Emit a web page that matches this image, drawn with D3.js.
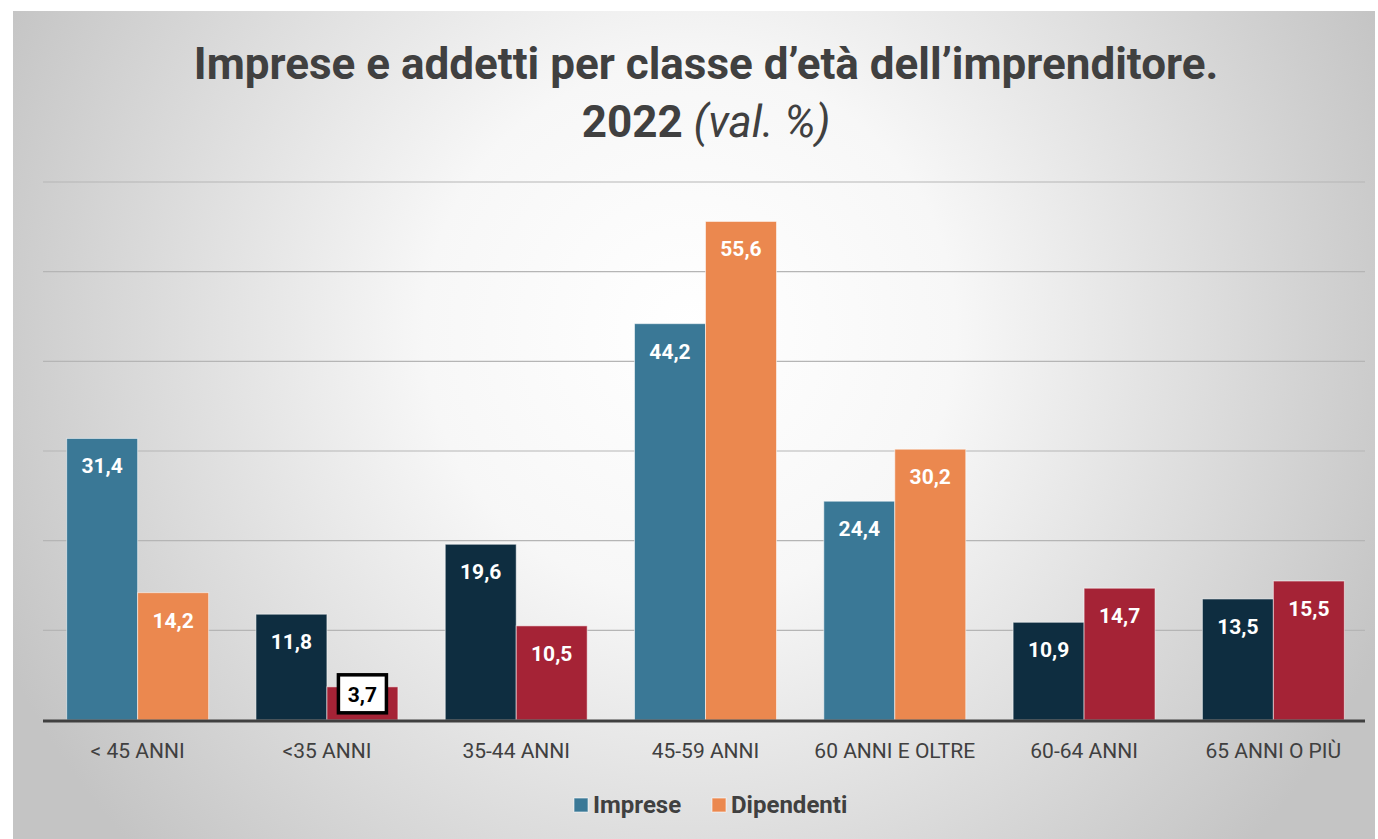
<!DOCTYPE html>
<html>
<head>
<meta charset="utf-8">
<script src="https://cdn.jsdelivr.net/npm/d3@7"></script>
<style>
  html, body { margin: 0; padding: 0; background: #fff; }
  svg { display: block; }
  text { font-family: "Roboto", "Liberation Sans", sans-serif; }
</style>
</head>
<body>
<svg id="chart" width="1378" height="839"></svg>
<script>
// ---- dati ----
const categorie = ["< 45 ANNI", "<35 ANNI", "35-44 ANNI", "45-59 ANNI", "60 ANNI E OLTRE", "60-64 ANNI", "65 ANNI O PIÙ"];
const imprese = [31.4, 11.8, 19.6, 44.2, 24.4, 10.9, 13.5];
const dipendenti = [14.2, 3.7, 10.5, 55.6, 30.2, 14.7, 15.5];
// sottoclassi (colori scuri)
const sottoclasse = [false, true, true, false, false, true, true];
const serieNomi = ["Imprese", "Dipendenti"];
const yTicks = [0, 10, 20, 30, 40, 50, 60];

// ---- colori ----
const COLORI = {
  imprese: "#3a7896",
  impreseScuro: "#0e2d40",
  dipendenti: "#eb884f",
  dipendentiScuro: "#a52336",
};

const W = 1378, H = 839;
const svg = d3.select("#chart");

// sfondo con gradiente radiale
const defs = svg.append("defs");
const grad = defs.append("radialGradient")
  .attr("id", "sfondo")
  .attr("gradientUnits", "userSpaceOnUse")
  .attr("cx", 690).attr("cy", 330).attr("r", 760);
grad.append("stop").attr("offset", "0%").attr("stop-color", "#ffffff");
grad.append("stop").attr("offset", "35%").attr("stop-color", "#f7f7f7");
grad.append("stop").attr("offset", "100%").attr("stop-color", "#c4c4c4");

svg.append("rect").attr("width", W).attr("height", H).attr("fill", "#fff");
svg.append("rect")
  .attr("x", 13).attr("y", 11)
  .attr("width", 1362).attr("height", H - 11)
  .attr("fill", "url(#sfondo)");

// ---- titolo ----
const titolo = svg.append("text")
  .attr("text-anchor", "middle")
  .attr("fill", "#404040")
  .style("font-weight", "bold")
  .style("font-size", "44px");
titolo.append("tspan").attr("x", 706).attr("y", 79)
  .text("Imprese e addetti per classe d’età dell’imprenditore.");
const riga2 = titolo.append("tspan").attr("x", 706).attr("y", 137);
riga2.append("tspan").text("2022 ");
riga2.append("tspan").style("font-weight", "normal").style("font-style", "italic").text("(val. %)");

// ---- scale ----
const plot = { left: 43, right: 1368, top: 182, bottom: 720 };
const x = d3.scaleBand().domain(categorie).range([plot.left, plot.right]).paddingInner(0.25).paddingOuter(0.125);
const xs = d3.scaleBand().domain(serieNomi).range([0, x.bandwidth()]);
const y = d3.scaleLinear().domain([0, 60]).range([plot.bottom, plot.top]);

// griglia
svg.append("g")
  .selectAll("line")
  .data(yTicks.filter(t => t > 0))
  .join("line")
  .attr("x1", plot.left).attr("x2", 1365)
  .attr("y1", d => y(d)).attr("y2", d => y(d))
  .attr("stroke", "#b5b5b5")
  .attr("stroke-width", 1.2);

// barre
const righe = categorie.map((c, i) => ({
  cat: c,
  valori: [
    { serie: "Imprese", v: imprese[i], fill: sottoclasse[i] ? COLORI.impreseScuro : COLORI.imprese },
    { serie: "Dipendenti", v: dipendenti[i], fill: sottoclasse[i] ? COLORI.dipendentiScuro : COLORI.dipendenti },
  ],
}));

const gruppi = svg.append("g").selectAll("g")
  .data(righe)
  .join("g")
  .attr("transform", d => `translate(${x(d.cat)},0)`);

gruppi.selectAll("rect")
  .data(d => d.valori)
  .join("rect")
  .attr("x", d => xs(d.serie))
  .attr("y", d => y(d.v))
  .attr("width", xs.bandwidth())
  .attr("height", d => y(0) - y(d.v))
  .attr("fill", d => d.fill)
  .attr("stroke", "rgba(255,255,255,0.55)")
  .attr("stroke-width", 1);

// etichette valori
gruppi.each(function (d) {
  const g = d3.select(this);
  d.valori.forEach(v => {
    const cx = xs(v.serie) + xs.bandwidth() / 2;
    const testo = d3.format(".1f")(v.v).replace(".", ",");
    const basso = y(0) - y(v.v) < 50;
    if (basso) {
      // etichetta con riquadro (valore piccolo)
      g.append("rect")
        .attr("x", cx - 24).attr("y", y(v.v) - 12)
        .attr("width", 48).attr("height", 38)
        .attr("fill", "#fff")
        .attr("stroke", "#000")
        .attr("stroke-width", 3.5);
      g.append("text")
        .attr("x", cx).attr("y", y(v.v) + 15)
        .attr("text-anchor", "middle")
        .attr("fill", "#000")
        .style("font-weight", "bold")
        .style("font-size", "21px")
        .text(testo);
    } else {
      g.append("text")
        .attr("x", cx).attr("y", y(v.v) + 35)
        .attr("text-anchor", "middle")
        .attr("fill", "#fff")
        .style("font-weight", "bold")
        .style("font-size", "21px")
        .text(testo);
    }
  });
});

// asse x
svg.append("line")
  .attr("x1", plot.left).attr("x2", 1365)
  .attr("y1", y(0) + 1).attr("y2", y(0) + 1)
  .attr("stroke", "#404040")
  .attr("stroke-width", 3);

const asseX = svg.append("g")
  .attr("transform", `translate(0,${plot.bottom})`)
  .call(d3.axisBottom(x).tickSize(0).tickPadding(38));
asseX.select(".domain").remove();
asseX.selectAll("text")
  .attr("dy", 0)
  .attr("fill", "#404040")
  .style("font-size", "21px")
  .style("font-family", "Roboto, sans-serif");

// legenda
const legenda = svg.append("g").attr("transform", "translate(574,813)");
const voci = [
  { nome: "Imprese", col: COLORI.imprese, dx: 0 },
  { nome: "Dipendenti", col: COLORI.dipendenti, dx: 138 },
];
voci.forEach(vc => {
  const gl = legenda.append("g").attr("transform", `translate(${vc.dx},0)`);
  gl.append("rect").attr("x", 0).attr("y", -15).attr("width", 14).attr("height", 14)
    .attr("fill", vc.col).attr("stroke", "rgba(255,255,255,0.6)");
  gl.append("text").attr("x", 19).attr("y", 0)
    .attr("fill", "#404040")
    .style("font-weight", "bold")
    .style("font-size", "24px")
    .text(vc.nome);
});
</script>
</body>
</html>
